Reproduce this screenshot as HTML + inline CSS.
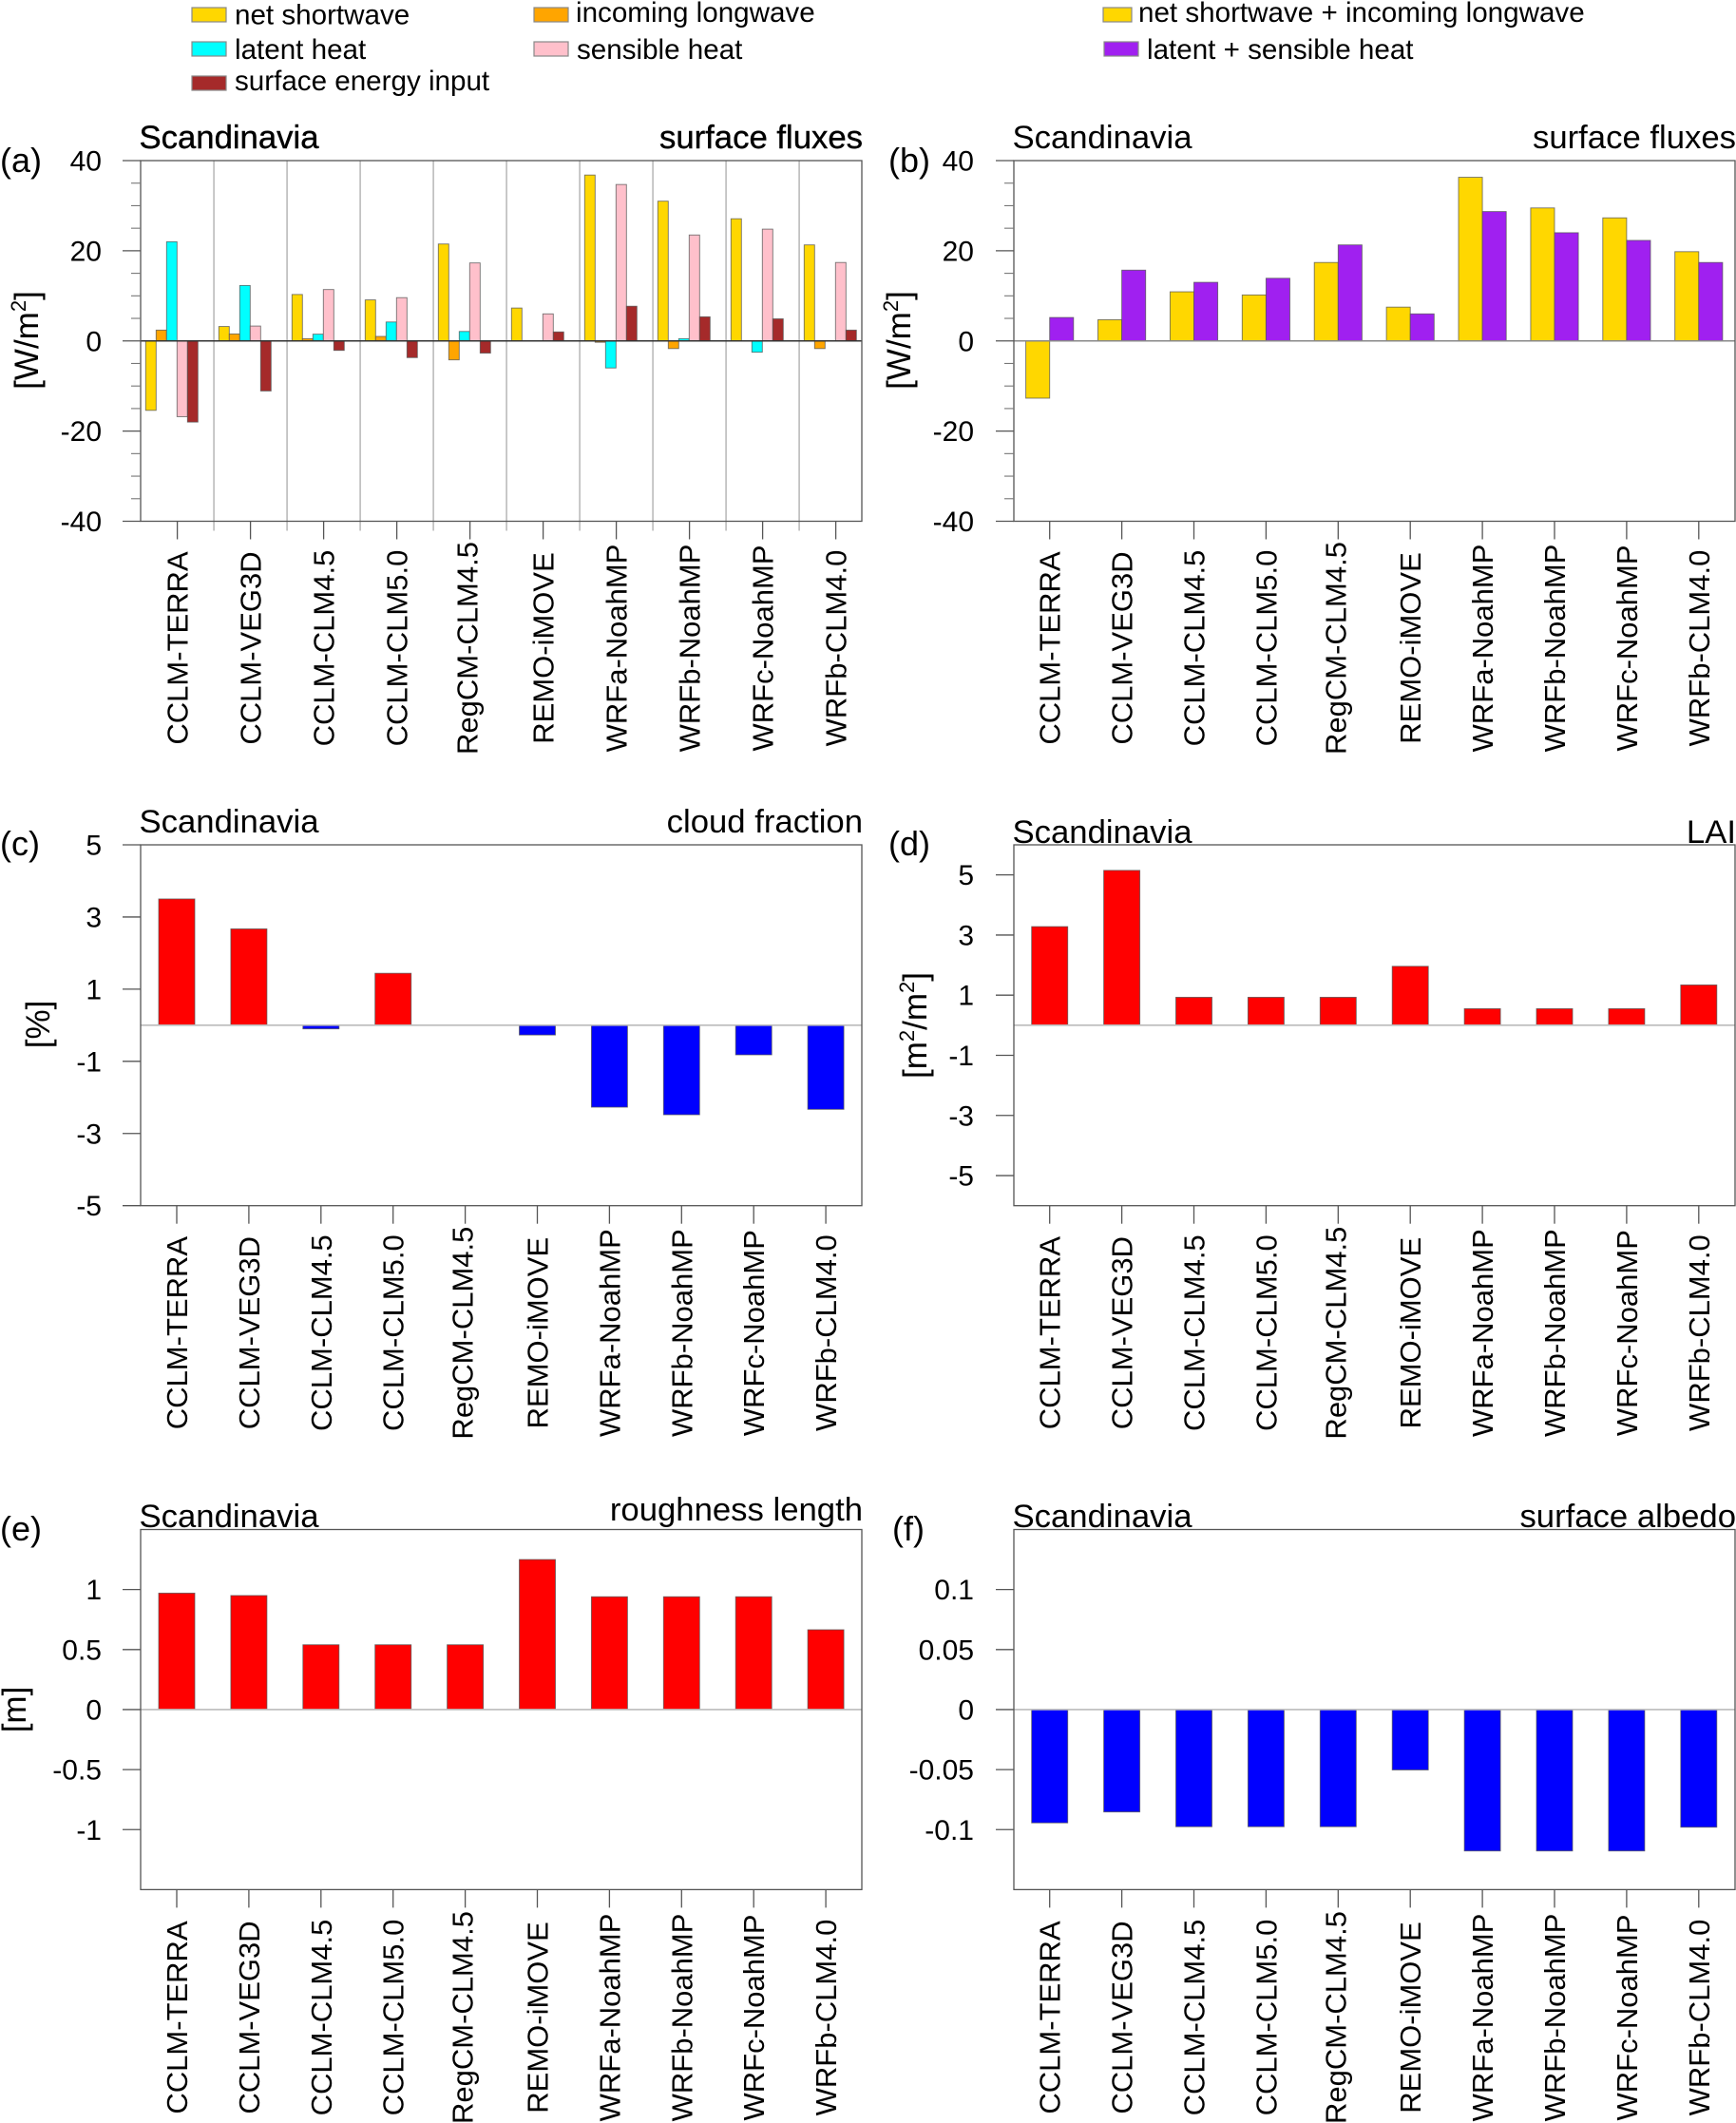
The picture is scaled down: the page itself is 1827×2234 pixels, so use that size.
<!DOCTYPE html>
<html lang="en">
<head>
<meta charset="utf-8">
<title>Scandinavia surface flux differences</title>
<style>
html,body{margin:0;padding:0;background:#fff;}
svg{display:block;position:absolute;left:0;top:0;}
text{font-family:"Liberation Sans",sans-serif;fill:#000;}
.title{font-size:34.7px;}
.legend{font-size:29.6px;}
.panel-tag{font-size:36px;}
.ytitle{font-size:35px;}
.ylab{font-size:30px;text-anchor:end;}
.xlab{font-size:31px;text-anchor:middle;}
.leg-box{stroke:#888;stroke-width:1.2;}
</style>
</head>
<body>
<svg id="fig" xmlns="http://www.w3.org/2000/svg" width="1827" height="2234" viewBox="0 0 1827 2234">
  <rect x="0" y="0" width="1827" height="2234" fill="#fff"/>

  <g>
    <rect class="leg-box" x="202" y="8" width="36" height="15" fill="#ffd700"/>
    <text class="legend" x="247" y="25.5">net shortwave</text>
    <rect class="leg-box" x="202" y="44" width="36" height="15" fill="#00ffff"/>
    <text class="legend" x="247" y="62">latent heat</text>
    <rect class="leg-box" x="202" y="80" width="36" height="15" fill="#a52a2a"/>
    <text class="legend" x="247" y="95">surface energy input</text>
    <rect class="leg-box" x="562" y="8" width="36" height="15" fill="#ffa500"/>
    <text class="legend" x="606" y="23">incoming longwave</text>
    <rect class="leg-box" x="562" y="44" width="36" height="15" fill="#ffc0cb"/>
    <text class="legend" x="607" y="62">sensible heat</text>
  </g>
  <g>
    <rect class="leg-box" x="1161" y="8" width="30" height="15" fill="#ffd700"/>
    <text class="legend" x="1198" y="23">net shortwave + incoming longwave</text>
    <rect class="leg-box" x="1162" y="44" width="36" height="15" fill="#a020f0"/>
    <text class="legend" x="1207" y="62">latent + sensible heat</text>
  </g>

  <g>
    <text class="panel-tag" x="0" y="181">(a)</text>
    <text class="panel-tag" x="935" y="181">(b)</text>
    <text class="panel-tag" x="0" y="900">(c)</text>
    <text class="panel-tag" x="935" y="900">(d)</text>
    <text class="panel-tag" x="0" y="1621">(e)</text>
    <text class="panel-tag" x="939" y="1621">(f)</text>
  </g>

  <g>
    <text class="title" x="146.5" y="156" stroke="#000" stroke-width="0.4">Scandinavia</text>
    <text class="title" x="908" y="156" text-anchor="end" stroke="#000" stroke-width="0.4">surface fluxes</text>
    <text class="title" x="1065.5" y="156">Scandinavia</text>
    <text class="title" x="1827" y="156" text-anchor="end">surface fluxes</text>
    <text class="title" x="146.5" y="876">Scandinavia</text>
    <text class="title" x="908" y="876" text-anchor="end">cloud fraction</text>
    <text class="title" x="1065.5" y="887">Scandinavia</text>
    <text class="title" x="1827" y="887" text-anchor="end">LAI</text>
    <text class="title" x="146.5" y="1607">Scandinavia</text>
    <text class="title" x="908" y="1600" text-anchor="end">roughness length</text>
    <text class="title" x="1065.5" y="1607">Scandinavia</text>
    <text class="title" x="1827" y="1607" text-anchor="end">surface albedo</text>
  </g>

  <g>
    <text class="ytitle" transform="translate(40,358) rotate(-90)" text-anchor="middle">[W/m<tspan font-size="22" dy="-13">2</tspan><tspan dy="13">]</tspan></text>
    <text class="ytitle" transform="translate(958,358) rotate(-90)" text-anchor="middle">[W/m<tspan font-size="22" dy="-13">2</tspan><tspan dy="13">]</tspan></text>
    <text class="ytitle" transform="translate(52,1078) rotate(-90)" text-anchor="middle">[%]</text>
    <text class="ytitle" transform="translate(975,1079) rotate(-90)" text-anchor="middle">[m<tspan font-size="22" dy="-13">2</tspan><tspan dy="13">/m</tspan><tspan font-size="22" dy="-13">2</tspan><tspan dy="13">]</tspan></text>
    <text class="ytitle" transform="translate(27,1799) rotate(-90)" text-anchor="middle">[m]</text>
  </g>
</svg>

<script>
// ---- chart data ----
const categories = ["CCLM-TERRA", "CCLM-VEG3D", "CCLM-CLM4.5", "CCLM-CLM5.0", "RegCM-CLM4.5", "REMO-iMOVE", "WRFa-NoahMP", "WRFb-NoahMP", "WRFc-NoahMP", "WRFb-CLM4.0"];

const netShortwave = [-15.4, 3.2, 10.3, 9.1, 21.5, 7.3, 36.8, 31, 27.1, 21.3];
const incomingLongwave = [2.4, 1.55, 0.5, 1, -4.2, 0.05, -0.3, -1.7, 0.05, -1.7];
const latentHeat = [22, 12.3, 1.5, 4.2, 2.1, 0, -6, 0.5, -2.5, 0];
const sensibleHeat = [-16.8, 3.3, 11.4, 9.6, 17.3, 6, 34.7, 23.5, 24.8, 17.4];
const surfaceEnergyInput = [-18, -11.1, -2.1, -3.7, -2.7, 2, 7.7, 5.35, 4.9, 2.4];

const shortwavePlusLongwave = [-12.7, 4.7, 10.9, 10.2, 17.4, 7.5, 36.3, 29.5, 27.3, 19.8];
const latentPlusSensible = [5.2, 15.7, 13, 13.9, 21.3, 6, 28.7, 24, 22.3, 17.4];

const cloudFraction = [3.5, 2.67, -0.1, 1.44, 0, -0.27, -2.27, -2.48, -0.82, -2.33];
const leafAreaIndex = [3.28, 5.15, 0.93, 0.93, 0.93, 1.96, 0.55, 0.55, 0.55, 1.34];
const roughnessLength = [0.97, 0.95, 0.54, 0.54, 0.54, 1.25, 0.94, 0.94, 0.94, 0.665];
const surfaceAlbedo = [-0.0944, -0.0853, -0.0976, -0.0976, -0.0976, -0.0503, -0.1178, -0.1178, -0.1178, -0.098];

const fluxTicks = [-40, -20, 0, 20, 40];
const fluxMinorTicks = [-35, -30, -25, -15, -10, -5, 5, 10, 15, 25, 30, 35];
const oddTicks = [-5, -3, -1, 1, 3, 5];
const roughnessTicks = [-1, -0.5, 0, 0.5, 1];
const albedoTicks = [-0.1, -0.05, 0, 0.05, 0.1];

// ---- drawing ----
const NS = "http://www.w3.org/2000/svg";
const fig = document.getElementById("fig");

function make(tag, attrs, parent) {
  const el = document.createElementNS(NS, tag);
  for (const k in attrs) el.setAttribute(k, attrs[k]);
  parent.appendChild(el);
  return el;
}

function drawPanel(p) {
  const g = make("g", {}, fig);
  
  

  const yScale = v => p.bottom - (v - p.yMin) / (p.yMax - p.yMin) * (p.bottom - p.top);
  const xScale = i => p.firstTick + i * p.step;
  const axisColor = "#555";

  if (p.separators) {
    categories.forEach((c, i) => {
      if (i === 0) return;
      const sx = xScale(i) - p.step / 2;
      const sep = make("line", {x1: sx, x2: sx, y1: p.top, y2: p.bottom + 10, stroke: "#bbb", "stroke-width": 1.6}, g);
      
      
    });
  }

  p.series.forEach((s, si) => {
    s.values.forEach((v, i) => {
      const x = xScale(i) + p.groupOffset + si * p.barWidth;
      const y0 = yScale(0), y1 = yScale(v);
      const fill = s.color || (v >= 0 ? "#ff0000" : "#0000ff");
      const bar = make("rect", {x: x, y: Math.min(y0, y1), width: p.barWidth, height: Math.abs(y1 - y0), fill: fill, stroke: "#555", "stroke-width": 0.9, "stroke-opacity": 0.8}, g);
      
      
    });
  });

  const zero = make("line", {x1: p.left, x2: p.right, y1: yScale(0), y2: yScale(0), stroke: p.zeroColor, "stroke-width": 1.6}, g);
  
  

  const frame = make("rect", {x: p.left, y: p.top, width: p.right - p.left, height: p.bottom - p.top, fill: "none", stroke: axisColor, "stroke-width": 1.3}, g);
  
  

  p.yTicks.forEach(v => {
    const y = yScale(v);
    const tick = make("line", {x1: p.left - 19, x2: p.left, y1: y, y2: y, stroke: axisColor, "stroke-width": 1.3}, g);
    
    
    const lab = make("text", {class: "ylab", x: p.labelRight, y: y + 10.5}, g);
    
    
    lab.textContent = String(v);
  });

  (p.yMinor || []).forEach(v => {
    const y = yScale(v);
    const tick = make("line", {x1: p.left - 10, x2: p.left, y1: y, y2: y, stroke: "#777", "stroke-width": 1.1}, g);
    
    
  });

  categories.forEach((c, i) => {
    const x = xScale(i);
    const tick = make("line", {x1: x, x2: x, y1: p.bottom, y2: p.bottom + 19, stroke: axisColor, "stroke-width": 1.3}, g);
    
    
    // labels with a descender are centred on their full ink height in the reference
    const baselineShift = c.indexOf("g") >= 0 ? 8 : 11;
    const lab = make("text", {class: "xlab", transform: "translate(" + (x + baselineShift) + "," + p.xLabelMid + ") rotate(-90)"}, g);
    
    
    lab.textContent = c;
  });
}

const LEFT_COL = {left: 148, right: 907, labelRight: 107};
const RIGHT_COL = {left: 1067, right: 1826, labelRight: 1025};

drawPanel(Object.assign({}, LEFT_COL, {
  id: "a", top: 169, bottom: 548.5, yMin: -40, yMax: 40, yTicks: fluxTicks, yMinor: fluxMinorTicks,
  firstTick: 186.6, step: 77, barWidth: 11, groupOffset: -33.3, zeroColor: "#333", separators: true, xLabelMid: 682,
  series: [
    {name: "net-shortwave", values: netShortwave, color: "#ffd700"},
    {name: "incoming-longwave", values: incomingLongwave, color: "#ffa500"},
    {name: "latent-heat", values: latentHeat, color: "#00ffff"},
    {name: "sensible-heat", values: sensibleHeat, color: "#ffc0cb"},
    {name: "surface-energy-input", values: surfaceEnergyInput, color: "#a52a2a"}
  ]
}));

drawPanel(Object.assign({}, RIGHT_COL, {
  id: "b", top: 169, bottom: 548.5, yMin: -40, yMax: 40, yTicks: fluxTicks, yMinor: fluxMinorTicks,
  firstTick: 1104.7, step: 75.9, barWidth: 25.1, groupOffset: -25.1, zeroColor: "#888", separators: false, xLabelMid: 682,
  series: [
    {name: "shortwave-plus-longwave", values: shortwavePlusLongwave, color: "#ffd700"},
    {name: "latent-plus-sensible", values: latentPlusSensible, color: "#a020f0"}
  ]
}));

drawPanel(Object.assign({}, LEFT_COL, {
  id: "c", top: 889, bottom: 1268.7, yMin: -5, yMax: 5, yTicks: oddTicks,
  firstTick: 186, step: 75.9, barWidth: 38, groupOffset: -19, zeroColor: "#bbb", separators: false, xLabelMid: 1402.6,
  series: [{name: "cloud-fraction", values: cloudFraction}]
}));

drawPanel(Object.assign({}, RIGHT_COL, {
  id: "d", top: 889, bottom: 1268.7, yMin: -6, yMax: 6, yTicks: oddTicks,
  firstTick: 1104.7, step: 75.9, barWidth: 38, groupOffset: -19, zeroColor: "#bbb", separators: false, xLabelMid: 1402.6,
  series: [{name: "lai", values: leafAreaIndex}]
}));

drawPanel(Object.assign({}, LEFT_COL, {
  id: "e", top: 1609.5, bottom: 1988.4, yMin: -1.5, yMax: 1.5, yTicks: roughnessTicks,
  firstTick: 186, step: 75.9, barWidth: 38, groupOffset: -19, zeroColor: "#bbb", separators: false, xLabelMid: 2123,
  series: [{name: "roughness-length", values: roughnessLength}]
}));

drawPanel(Object.assign({}, RIGHT_COL, {
  id: "f", top: 1609.5, bottom: 1988.4, yMin: -0.15, yMax: 0.15, yTicks: albedoTicks,
  firstTick: 1104.7, step: 75.9, barWidth: 38, groupOffset: -19, zeroColor: "#bbb", separators: false, xLabelMid: 2123,
  series: [{name: "surface-albedo", values: surfaceAlbedo}]
}));
</script>
</body>
</html>
